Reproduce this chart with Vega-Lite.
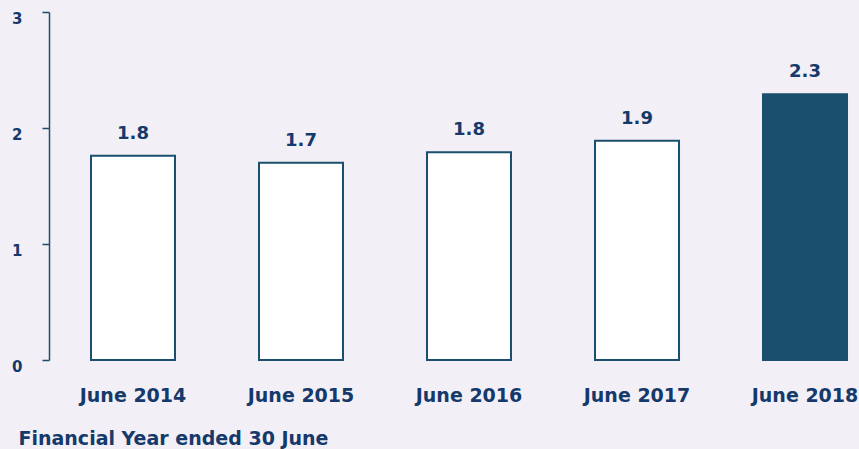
{
  "$schema": "https://vega.github.io/schema/vega-lite/v6.json",
  "width": 810,
  "height": 348,
  "autosize": {"type": "none"},
  "padding": {"left": 49, "top": 12, "right": 0, "bottom": 89},
  "background": "#f2eff6",
  "config": {
    "view": {"stroke": null},
    "font": "DejaVu Sans",
    "axis": {"grid": false}
  },
  "data": {
    "values": [
      {"year": "June 2014", "value": 1.76, "label": "1.8", "kind": "prior"},
      {"year": "June 2015", "value": 1.70, "label": "1.7", "kind": "prior"},
      {"year": "June 2016", "value": 1.79, "label": "1.8", "kind": "prior"},
      {"year": "June 2017", "value": 1.89, "label": "1.9", "kind": "prior"},
      {"year": "June 2018", "value": 2.29, "label": "2.3", "kind": "current"}
    ]
  },
  "encoding": {
    "x": {
      "field": "year",
      "type": "nominal",
      "sort": null,
      "scale": {"paddingInner": 0.5, "paddingOuter": 0.1607, "align": 0.778},
      "axis": {
        "domain": false,
        "ticks": false,
        "labelAngle": 0,
        "labelFont": "DejaVu Sans",
        "labelFontSize": 19,
        "labelFontWeight": "bold",
        "labelColor": "#15396a",
        "labelPadding": 26,
        "title": "Financial Year ended 30 June",
        "titleFont": "DejaVu Sans",
        "titleFontSize": 19,
        "titleFontWeight": "bold",
        "titleColor": "#15396a",
        "titleAnchor": "start",
        "titleAlign": "left",
        "titleBaseline": "alphabetic",
        "titleX": -31,
        "titleY": 84
      }
    },
    "y": {
      "field": "value",
      "type": "quantitative",
      "scale": {"domain": [0, 3], "nice": false},
      "axis": {
        "values": [0, 1, 2, 3],
        "format": "d",
        "title": null,
        "domainColor": "#1b4f6e",
        "domainWidth": 1.5,
        "tickColor": "#1b4f6e",
        "tickWidth": 1.5,
        "tickSize": 7,
        "labelFont": "DejaVu Sans",
        "labelFontSize": 15,
        "labelFontWeight": "bold",
        "labelColor": "#15396a",
        "labelPadding": 20,
        "labelOffset": 6
      }
    }
  },
  "layer": [
    {
      "mark": {"type": "bar", "stroke": "#1b4f6e", "strokeWidth": 2},
      "encoding": {
        "fill": {
          "field": "kind",
          "type": "nominal",
          "scale": {"domain": ["prior", "current"], "range": ["#ffffff", "#1b4f6e"]},
          "legend": null
        }
      }
    },
    {
      "mark": {
        "type": "text",
        "baseline": "alphabetic",
        "dy": -17,
        "font": "DejaVu Sans",
        "fontSize": 18,
        "fontWeight": "bold",
        "color": "#15396a"
      },
      "encoding": {"text": {"field": "label"}}
    }
  ]
}
